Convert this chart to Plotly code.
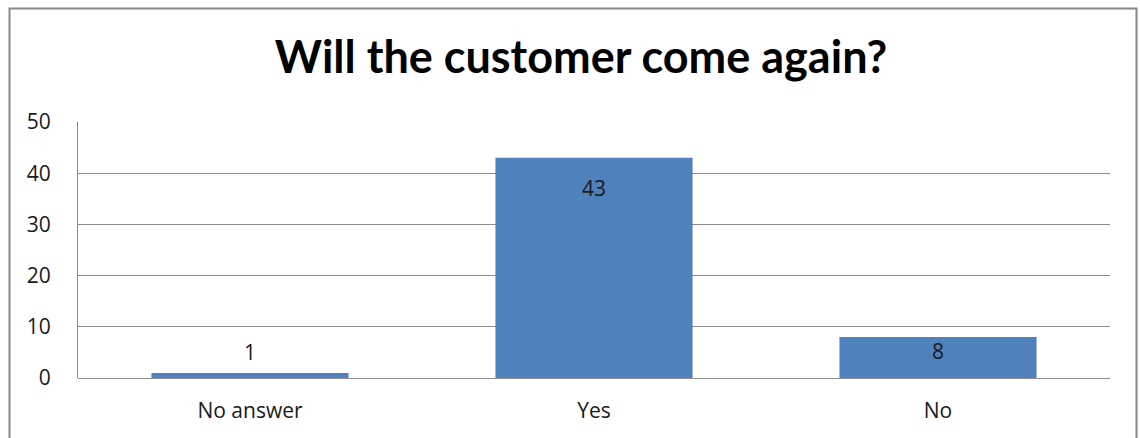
import plotly.graph_objects as go

# Survey answers
categories = ["No answer", "Yes", "No"]
counts = [1, 43, 8]
y_ticks = [0, 10, 20, 30, 40, 50]

# vertical offset (px) of each value label relative to its bar top
label_shift = [21, -30, -14]

BAR = "#4F81BD"
GRID = "#8C8C8C"
TITLE_FONT = "Lato, 'Open Sans', sans-serif"
FONT = "'Open Sans', 'Noto Sans', sans-serif"

fig = go.Figure()
fig.add_trace(go.Bar(
    x=categories,
    y=counts,
    marker=dict(color=BAR, line=dict(width=0)),
    width=0.573,
    hoverinfo="x+y",
))

for cat, val, dy in zip(categories, counts, label_shift):
    fig.add_annotation(
        x=cat, y=val, text=str(val), showarrow=False,
        yshift=dy, font=dict(family=FONT, size=21, color="#1a1a1a"),
    )

W, H = 1140, 438
ml, mr, mt, mb = 78, 30, 122, 60
pw, ph = W - ml - mr, H - mt - mb

def px_x(x):
    return (x - ml) / pw

def px_y(y):
    return (H - mb - y) / ph

# outer chart frame
fig.add_shape(
    type="rect", xref="paper", yref="paper",
    x0=px_x(9.5), x1=px_x(1136.5), y0=px_y(445), y1=px_y(8.5),
    line=dict(color="#888888", width=2), fillcolor="rgba(0,0,0,0)",
    layer="above",
)

fig.update_layout(
    width=W, height=H,
    margin=dict(l=ml, r=mr, t=mt, b=mb),
    paper_bgcolor="white", plot_bgcolor="white",
    showlegend=False,
    title=dict(
        text="<b>Will the customer come again?</b>",
        x=581 / W, xanchor="center", xref="container",
        y=1 - 57 / H, yanchor="middle", yref="container",
        font=dict(family=TITLE_FONT, size=45, color="#000000"),
    ),
    xaxis=dict(
        showgrid=False, showline=False, zeroline=False,
        ticks="outside", ticklen=14, tickcolor="rgba(0,0,0,0)",
        tickfont=dict(family=FONT, size=21, color="#1a1a1a"),
        fixedrange=True,
    ),
    yaxis=dict(
        range=[0, 50], tickvals=y_ticks,
        showgrid=True, gridcolor=GRID, gridwidth=1,
        showline=True, linecolor=GRID, linewidth=1,
        zeroline=True, zerolinecolor=GRID, zerolinewidth=1,
        ticks="outside", ticklen=22, tickcolor="rgba(0,0,0,0)",
        tickfont=dict(family=FONT, size=21, color="#1a1a1a"),
        fixedrange=True,
    ),
)

fig.write_html("out.html")
